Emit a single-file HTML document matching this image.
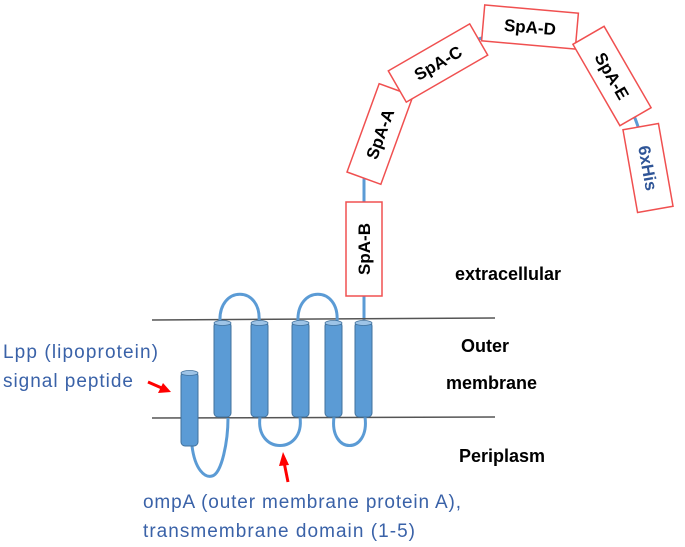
<!DOCTYPE html>
<html><head><style>body{margin:0;background:#fff}svg{display:block}</style></head>
<body>
<svg width="685" height="547" viewBox="0 0 685 547" xmlns="http://www.w3.org/2000/svg" font-family="Liberation Sans, sans-serif">
<path d="M364,320 L364,202 M364,202 L364,180 Q368,150 380,133 Q405,90 438,63 Q470,35 527,27 Q575,30 612,75 Q640,115 648,168" fill="none" stroke="#5b9bd5" stroke-width="3"/>
<line x1="152" y1="320" x2="495" y2="318" stroke="#555" stroke-width="1.5"/>
<line x1="152" y1="418" x2="495" y2="417" stroke="#555" stroke-width="1.5"/>
<g fill="none" stroke="#5b9bd5" stroke-width="3">
<path d="M220,322 C218,285 262,285 259,322"/>
<path d="M298,322 C296,285 340,285 337,322"/>
<path d="M260,417 C255,455 305,455 300,417"/>
<path d="M334,417 C329,455 370,455 365,417"/>
<path d="M192,446 C195,470 205,478 212,476 C222,474 228,440 228,418"/>
</g>
<g fill="#5b9bd5" stroke="#41719c" stroke-width="1">
<rect x="214" y="322" width="17" height="95" rx="4"/>
<rect x="251" y="322" width="17" height="95" rx="4"/>
<rect x="292" y="322" width="17" height="95" rx="4"/>
<rect x="325" y="322" width="17" height="95" rx="4"/>
<rect x="355" y="322" width="17" height="95" rx="4"/>
<rect x="181" y="372" width="17" height="74" rx="4"/>
</g>
<g fill="#9dc3e6" stroke="#41719c" stroke-width="0.8">
<ellipse cx="222.5" cy="323" rx="8.5" ry="2.5"/><ellipse cx="259.5" cy="323" rx="8.5" ry="2.5"/><ellipse cx="300.5" cy="323" rx="8.5" ry="2.5"/><ellipse cx="333.5" cy="323" rx="8.5" ry="2.5"/><ellipse cx="363.5" cy="323" rx="8.5" ry="2.5"/><ellipse cx="189.5" cy="373" rx="8.5" ry="2.5"/>
</g>
<g stroke="red" stroke-width="3" fill="red">
<line x1="148" y1="382" x2="164" y2="389"/>
<polygon points="171,392 158,393 163,383" stroke="none"/>
<line x1="288" y1="482" x2="284" y2="462"/>
<polygon points="283,452 289,465 279,466" stroke="none"/>
</g>
<g font-weight="bold" font-size="17" text-anchor="middle">
<g transform="translate(364,249) rotate(-90)"><rect x="-47" y="-18" width="94" height="36" fill="#fff" stroke="#f05050" stroke-width="1.5"/><text y="6" fill="#000">SpA-B</text></g>
<g transform="translate(380,134) rotate(-70)"><rect x="-47" y="-18" width="94" height="36" fill="#fff" stroke="#f05050" stroke-width="1.5"/><text y="6" fill="#000">SpA-A</text></g>
<g transform="translate(438,63) rotate(-30)"><rect x="-47" y="-18" width="94" height="36" fill="#fff" stroke="#f05050" stroke-width="1.5"/><text y="6" fill="#000">SpA-C</text></g>
<g transform="translate(530,27) rotate(5)"><rect x="-47" y="-18" width="94" height="36" fill="#fff" stroke="#f05050" stroke-width="1.5"/><text y="6" fill="#000">SpA-D</text></g>
<g transform="translate(612,76) rotate(60)"><rect x="-47" y="-18" width="94" height="36" fill="#fff" stroke="#f05050" stroke-width="1.5"/><text y="6" fill="#000">SpA-E</text></g>
<g transform="translate(648,168) rotate(80)"><rect x="-42" y="-18" width="84" height="36" fill="#fff" stroke="#f05050" stroke-width="1.5"/><text y="6" fill="#2f5597">6xHis</text></g>
</g>
<g font-size="18" font-weight="bold" fill="#000">
<text x="455" y="280">extracellular</text>
<text x="461" y="352">Outer</text>
<text x="446" y="389">membrane</text>
<text x="459" y="462">Periplasm</text>
</g>
<g font-size="19" fill="#3a62a8">
<text x="3" y="358" textLength="155">Lpp (lipoprotein)</text>
<text x="3" y="387" textLength="130">signal peptide</text>
<text x="143" y="508" textLength="318">ompA (outer membrane protein A),</text>
<text x="143" y="537" textLength="272">transmembrane domain (1-5)</text>
</g>
</svg>
</body></html>
